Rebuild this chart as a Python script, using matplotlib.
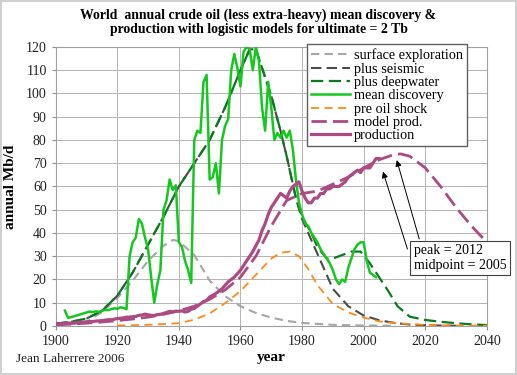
import matplotlib
matplotlib.use("Agg")
import matplotlib.pyplot as plt

plt.rcParams['font.family'] = ['Liberation Serif', 'DejaVu Serif']

# descubrimiento medio anual (Mb/d)
anios_desc = list(range(1903, 2005))
descubrimiento = [6.6, 3.5, 3.8, 4.2, 4.6, 5.0, 5.4, 5.8, 6.2, 6.0, 6.3, 6.1, 6.5, 6.9, 6.8, 7.2, 7.6, 7.4, 8.0, 7.8,
                  7.2, 30, 36, 38, 46, 44, 38, 33, 21, 10, 18, 24, 50, 54, 63, 58.5, 60.5, 36, 34, 28,
                  24, 18.5, 80, 84, 83, 105, 108, 63, 64, 70, 57, 80, 86, 89, 110, 117, 111, 103, 118, 120,
                  119, 110, 120, 114, 94, 84, 105, 94, 80, 83, 81, 84, 81, 84, 76, 63, 53, 48, 44, 43,
                  40, 38, 36, 33, 31, 29, 27, 24, 20, 18, 20, 19, 25, 29, 33, 35, 36, 36, 28, 23,
                  22, 21]

# produccion anual (Mb/d)
anios_prod = list(range(1900, 2006))
produccion = [0.8, 0.9, 1.0, 1.1, 1.2, 1.3, 1.3, 1.5, 1.6, 1.7, 1.8, 1.9, 1.9, 2.1, 2.2, 2.3, 2.5, 2.7, 2.7, 2.9,
              3.2, 3.3, 3.5, 3.8, 3.8, 4.0, 4.1, 4.6, 4.7, 5.1, 4.8, 4.6, 4.5, 4.9, 5.0, 5.4, 5.8, 6.3, 6.1, 6.4,
              6.3, 6.5, 6.0, 6.3, 7.2, 7.6, 8.5, 9.5, 10.5, 11.0, 12.5, 13.2, 14.0, 15.0, 16.0, 17.5, 19.0, 20.0, 21.0, 22.5,
              24.0, 26.0, 28.0, 30.0, 32.0, 34.5, 37.0, 41.0, 44.0, 48.0, 51.0, 53.0, 55.0, 57.0, 56.0, 55.0, 58.0, 60.0, 61.0, 62.0,
              58.0, 55.0, 53.0, 53.0, 55.0, 55.0, 57.0, 57.0, 59.0, 59.0, 60.0, 60.0, 60.0, 61.0, 62.0, 64.0, 65.0, 66.0, 67.0, 66.0,
              68.0, 68.0, 68.0, 70.0, 72.0, 72.0]

# modelos logisticos
anios_sup = [1900, 1905, 1910, 1915, 1920, 1925, 1930, 1935, 1938, 1940, 1945, 1950, 1955, 1960, 1965, 1970, 1975, 1980, 1990, 2000, 2010]
superficie = [0.3, 0.7, 1.8, 6, 12, 19.5, 28, 34.5, 37, 36.5, 30.5, 19.5, 12.8, 8.5, 5.6, 3.6, 2.2, 1.3, 0.5, 0.2, 0.1]

anios_sis = [1900, 1905, 1910, 1915, 1920, 1925, 1930, 1935, 1940, 1945, 1950, 1955, 1960, 1963, 1965, 1967, 1970, 1973, 1975, 1978,
             1980, 1985, 1990, 1995, 2000, 2005, 2010, 2015, 2020, 2030]
sismica = [1.0, 1.8, 3.2, 6.5, 13, 23, 35, 47, 60, 70, 80, 94, 110, 119, 119, 111, 99, 84, 73, 55,
           46, 31, 16, 8.5, 4.5, 2.5, 1.3, 0.6, 0.3, 0.1]

anios_prof = [1900, 1905, 1910, 1915, 1920, 1925, 1930, 1935, 1940, 1945, 1950, 1955, 1960, 1963, 1965, 1967, 1970, 1973, 1975, 1978,
              1980, 1983, 1985, 1988, 1990, 1993, 1996, 1999, 2002, 2005, 2008, 2011, 2015, 2020, 2025, 2030, 2035, 2040]
aguas_prof = [1.0, 1.8, 3.2, 6.5, 13, 23, 35, 47, 60, 70, 80, 94, 110, 119, 119, 111, 99, 84, 73, 55,
              47, 40, 34, 29, 29, 30.5, 32, 32, 27, 21, 15, 8.5, 4, 2.6, 1.8, 1.2, 0.7, 0.4]

anios_pre = [1920, 1930, 1940, 1945, 1950, 1955, 1960, 1965, 1970, 1973, 1976, 1979, 1982, 1985, 1990, 1995, 2000, 2005, 2010, 2020, 2030, 2040]
pre_shock = [0.2, 0.5, 1.2, 2.7, 5.4, 9.8, 15, 22, 29, 31.5, 32, 30, 24.5, 17.5, 9.5, 5.8, 3.6, 2.0, 1.2, 0.5, 0.2, 0.1]

anios_mod = [1900, 1905, 1910, 1915, 1920, 1925, 1930, 1935, 1940, 1945, 1950, 1955, 1960, 1965, 1970, 1975, 1980, 1985, 1990, 1995,
             2000, 2005, 2010, 2012, 2015, 2020, 2025, 2030, 2035, 2040]
modelo = [0.5, 0.8, 1.2, 1.7, 2.3, 3.0, 3.8, 5.0, 6.5, 8.5, 11.5, 15.5, 21, 30, 43, 54, 57, 58, 61, 64,
          68, 71.5, 73.8, 74, 73, 68, 60, 51, 43, 36]

magenta = '#ac4a84'

fig = plt.figure(figsize=(5.17, 3.75), dpi=100, linewidth=1.5, edgecolor='#d0d0d0')
ax = fig.add_axes([0.1077, 0.1307, 0.834, 0.744])

ax.plot(anios_sup, superficie, color='#a6a6a6', lw=1.5, dashes=(4, 2.5), label='surface exploration', zorder=3)
ax.plot(anios_sis, sismica, color='#4a4a4a', lw=1.5, dashes=(5, 2.5), label='plus seismic', zorder=4)
ax.plot(anios_prof, aguas_prof, color='#0b7a1e', lw=1.6, dashes=(5.5, 2.5), label='plus deepwater', zorder=5)
ax.plot(anios_desc, descubrimiento, color='#14c81e', lw=1.8, label='mean discovery', zorder=6)
ax.plot(anios_pre, pre_shock, color='#ff8a1a', lw=1.3, dashes=(4.5, 3), label='pre oil shock', zorder=7)
ax.plot(anios_mod, modelo, color=magenta, lw=2.0, dashes=(5.5, 2.2), label='model prod.', zorder=8)
ax.plot(anios_prod, produccion, color=magenta, lw=2.3, label='production', zorder=9)

ax.set_xlim(1900, 2040)
ax.set_ylim(0, 120)
ax.set_xticks(range(1900, 2041, 20))
ax.set_yticks(range(0, 121, 10))
ax.grid(True, color='#b4b4b4', lw=0.7)
ax.set_axisbelow(True)
for s in ax.spines.values():
    s.set_color('#a0a0a0')
ax.tick_params(labelsize=10, colors='#909090', labelcolor='#222222', length=3)

ax.set_xlabel('year', fontsize=11, fontweight='bold', labelpad=2)
ax.set_ylabel('annual Mb/d', fontsize=11, fontweight='bold', labelpad=6)
fig.text(0.5, 0.978, 'World  annual crude oil (less extra-heavy) mean discovery &\nproduction with logistic models for ultimate = 2 Tb',
         ha='center', va='top', fontsize=9.9, fontweight='bold', linespacing=1.12)
fig.text(0.03, 0.035, 'Jean Laherrere 2006', fontsize=9.5, color='#222222')

leg = ax.legend(loc='upper left', bbox_to_anchor=(0.594, 0.882), bbox_transform=fig.transFigure,
                fontsize=10.3, frameon=True, fancybox=False, framealpha=1, edgecolor='#606060',
                handlelength=2.7, handletextpad=0.25, labelspacing=0.02, borderpad=0.3, borderaxespad=0)
leg.get_frame().set_linewidth(1.0)
leg.set_zorder(20)

fig.text(0.8, 0.312, 'peak = 2012\nmidpoint = 2005', fontsize=10, va='center', ha='left', linespacing=1.2,
         bbox=dict(boxstyle='square,pad=0.25', fc='white', ec='#404040', lw=0.8), zorder=21)
ax.annotate('', xy=(2010.5, 72.5), xytext=(0.8124, 0.3555), textcoords='figure fraction',
            arrowprops=dict(arrowstyle='-|>', color='black', lw=0.7, mutation_scale=9), zorder=22)
ax.annotate('', xy=(2006, 67.5), xytext=(0.7897, 0.3288), textcoords='figure fraction',
            arrowprops=dict(arrowstyle='-|>', color='black', lw=0.7, mutation_scale=9), zorder=22)

fig.savefig('out.png', dpi=100)
